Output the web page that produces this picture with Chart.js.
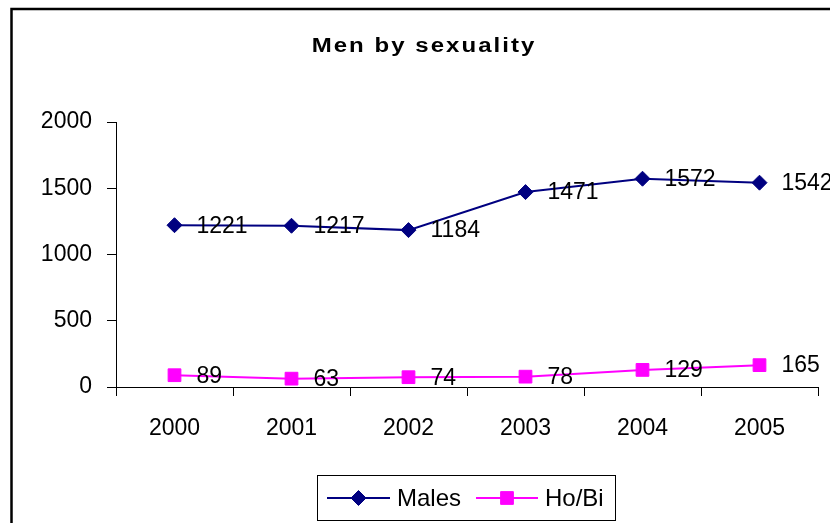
<!DOCTYPE html>
<html>
<head>
<meta charset="utf-8">
<script src="https://cdn.jsdelivr.net/npm/chart.js@4"></script>
<style>
  html, body { margin: 0; padding: 0; background: #fff; }
  canvas { display: block; }
</style>
</head>
<body>
<canvas id="c" width="830" height="523"></canvas>
<script>
const years = ['2000', '2001', '2002', '2003', '2004', '2005'];
const males = [1221, 1217, 1184, 1471, 1572, 1542];
const hoBi = [89, 63, 74, 78, 129, 165];
const yTicks = [0, 500, 1000, 1500, 2000];
const titleText = 'Men by sexuality';
const seriesNames = ['Males', 'Ho/Bi'];

const FONT = '"Liberation Sans", Arial, sans-serif';

const decorPlugin = {
  id: 'decor',
  afterDraw(chart) {
    const ctx = chart.ctx;
    ctx.save();
    // outer frame (left + top)
    ctx.strokeStyle = '#000';
    ctx.lineWidth = 2.5;
    ctx.beginPath();
    ctx.moveTo(11.5, 530);
    ctx.lineTo(11.5, 9);
    ctx.lineTo(840, 9);
    ctx.stroke();

    // title (slightly widened, spaced like the original)
    ctx.save();
    ctx.fillStyle = '#000';
    ctx.font = 'bold 20px ' + FONT;
    ctx.letterSpacing = '1.7px';
    ctx.textAlign = 'center';
    ctx.textBaseline = 'alphabetic';
    ctx.translate(424, 51.5);
    ctx.scale(1.2, 1);
    ctx.fillText(titleText, 0, 0);
    ctx.restore();

    // data labels
    ctx.font = '23px ' + FONT;
    ctx.fillStyle = '#000';
    ctx.textAlign = 'left';
    ctx.textBaseline = 'middle';
    chart.data.datasets.forEach((ds, i) => {
      const meta = chart.getDatasetMeta(i);
      meta.data.forEach((pt, j) => {
        ctx.fillText(String(ds.data[j]), pt.x + 22, pt.y + 1);
      });
    });

    // legend
    ctx.lineWidth = 1;
    ctx.strokeStyle = '#000';
    ctx.strokeRect(317.5, 475.5, 298, 45);
    const ly = 498;
    const items = [
      { ds: chart.data.datasets[0], x0: 327, x1: 390, tx: 397 },
      { ds: chart.data.datasets[1], x0: 476, x1: 538, tx: 545 }
    ];
    items.forEach(it => {
      ctx.strokeStyle = it.ds.borderColor;
      ctx.lineWidth = 2;
      ctx.beginPath();
      ctx.moveTo(it.x0, ly);
      ctx.lineTo(it.x1, ly);
      ctx.stroke();
      ctx.fillStyle = it.ds.pointBackgroundColor;
      ctx.strokeStyle = it.ds.pointBorderColor;
      ctx.lineWidth = 1;
      Chart.helpers.drawPoint(ctx, {
        pointStyle: it.ds.pointStyle,
        radius: it.ds.pointRadius,
        borderWidth: 1
      }, (it.x0 + it.x1) / 2, ly);
      ctx.fillStyle = '#000';
      ctx.font = '24px ' + FONT;
      ctx.textAlign = 'left';
      ctx.textBaseline = 'middle';
      ctx.fillText(it.ds.label, it.tx, ly + 1);
    });
    ctx.restore();
  }
};

new Chart(document.getElementById('c'), {
  type: 'line',
  data: {
    labels: years,
    datasets: [
      {
        label: seriesNames[0],
        data: males,
        borderColor: '#000080',
        backgroundColor: '#000080',
        pointBackgroundColor: '#000080',
        pointBorderColor: '#000080',
        pointStyle: 'rectRot',
        pointRadius: 7.5,
        pointBorderWidth: 1,
        borderWidth: 2,
        tension: 0
      },
      {
        label: seriesNames[1],
        data: hoBi,
        borderColor: '#FF00FF',
        backgroundColor: '#FF00FF',
        pointBackgroundColor: '#FF00FF',
        pointBorderColor: '#FF00FF',
        pointStyle: 'rect',
        pointRadius: 9,
        pointBorderWidth: 1,
        borderWidth: 2,
        tension: 0
      }
    ]
  },
  options: {
    responsive: false,
    animation: false,
    layout: { padding: { top: 122, left: 0, right: 12, bottom: 0 } },
    plugins: {
      legend: { display: false },
      title: { display: false },
      tooltip: { enabled: false }
    },
    scales: {
      x: {
        offset: true,
        grid: {
          offset: true,
          drawOnChartArea: false,
          drawTicks: true,
          tickLength: 9,
          color: '#000',
          lineWidth: 1
        },
        border: { display: true, color: '#000', width: 1 },
        ticks: {
          color: '#000',
          font: { family: FONT, size: 23 },
          padding: 19,
          maxRotation: 0
        },
        afterFit(scale) { scale.height = 136; }
      },
      y: {
        min: 0,
        max: 2000,
        afterBuildTicks(scale) { scale.ticks = yTicks.map(v => ({ value: v })); },
        grid: {
          drawOnChartArea: false,
          drawTicks: true,
          tickLength: 9,
          color: '#000',
          lineWidth: 1
        },
        border: { display: true, color: '#000', width: 1 },
        ticks: {
          color: '#000',
          font: { family: FONT, size: 23 },
          padding: 15,
          callback: (v) => String(v)
        },
        afterFit(scale) { scale.width = 116; }
      }
    }
  },
  plugins: [decorPlugin]
});
</script>
</body>
</html>
